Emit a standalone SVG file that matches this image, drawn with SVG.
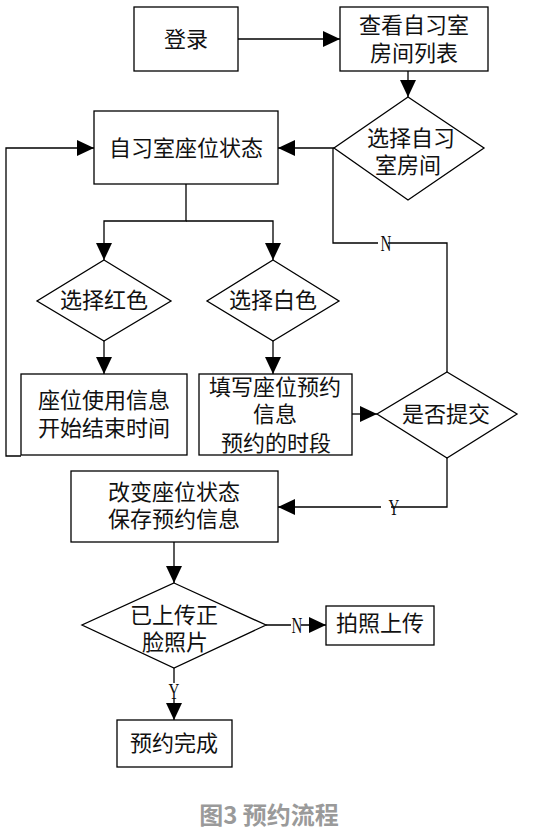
<svg xmlns="http://www.w3.org/2000/svg" width="535" height="834" viewBox="0 0 535 834">
<style>
.box{fill:#fff;stroke:#000;stroke-width:1.3}
.ln{fill:none;stroke:#000;stroke-width:1.3}
.t{font-family:"Noto Sans CJK SC","Liberation Serif",serif;font-size:22px;fill:#111;text-anchor:middle}
.lab{font-family:"Liberation Serif",serif;font-size:20px;fill:#111;text-anchor:middle}
.cap{font-family:"Noto Sans CJK SC",sans-serif;font-size:24px;font-weight:bold;fill:#9a9a9a;text-anchor:middle}
</style>
<defs>
<marker id="ah" markerUnits="userSpaceOnUse" markerWidth="17" markerHeight="16" refX="17" refY="8" orient="auto">
<path d="M0,0 L17,8 L0,16 z" fill="#000"/>
</marker>
</defs>
<rect width="535" height="834" fill="#fff"/>
<g id="connectors">
<path class="ln" d="M238,39 H340" marker-end="url(#ah)"/>
<path class="ln" d="M408,71 V97" marker-end="url(#ah)"/>
<path class="ln" d="M334,148 H278" marker-end="url(#ah)"/>
<path class="ln" d="M333,148 V243 H378 M388,243 H447 V372"/>
<path class="ln" d="M186,184 V221 H104 V260" marker-end="url(#ah)"/>
<path class="ln" d="M186,221 H273 V260" marker-end="url(#ah)"/>
<path class="ln" d="M104,341 V374" marker-end="url(#ah)"/>
<path class="ln" d="M273,341 V374" marker-end="url(#ah)"/>
<path class="ln" d="M21,456 H6 V148 H94" marker-end="url(#ah)"/>
<path class="ln" d="M352,414 H377" marker-end="url(#ah)"/>
<path class="ln" d="M447,458 V507 H391 M381,507 H278" marker-end="url(#ah)"/>
<path class="ln" d="M174,542 V583" marker-end="url(#ah)"/>
<path class="ln" d="M266,625 H291 M301,625 H326" marker-end="url(#ah)"/>
<path class="ln" d="M174,668 V683 M174,699 V720" marker-end="url(#ah)"/>
<text class="lab" x="386" y="250" transform="translate(386 243) scale(0.75 1.2) translate(-386 -243)">N</text>
<text class="lab" x="394" y="514" transform="translate(394 507) scale(0.75 1.2) translate(-394 -507)">Y</text>
<text class="lab" x="297" y="632" transform="translate(297 625) scale(0.75 1.2) translate(-297 -625)">N</text>
<text class="lab" x="174" y="698" transform="translate(174 691) scale(0.75 1.2) translate(-174 -691)">Y</text>
</g>
<g id="login">
<rect class="box" x="134" y="7" width="104" height="64"/>
<text class="t" x="186" y="47">登录</text>
</g>
<g id="roomlist">
<rect class="box" x="340" y="7" width="148" height="64"/>
<text class="t" x="414" y="33">查看自习室</text>
<text class="t" x="414" y="61">房间列表</text>
</g>
<g id="selectroom">
<polygon class="box" points="408,97 484,148 408,200 334,148"/>
<text class="t" x="411" y="146">选择自习</text>
<text class="t" x="408" y="173">室房间</text>
</g>
<g id="seatstate">
<rect class="box" x="94" y="111" width="184" height="73"/>
<text class="t" x="186" y="156">自习室座位状态</text>
</g>
<g id="selectred">
<polygon class="box" points="104,260 171,301 104,341 37,301"/>
<text class="t" x="104" y="308">选择红色</text>
</g>
<g id="selectwhite">
<polygon class="box" points="273,260 339,301 273,341 207,301"/>
<text class="t" x="273" y="308">选择白色</text>
</g>
<g id="seatuse">
<rect class="box" x="21" y="374" width="166" height="81"/>
<text class="t" x="104" y="408">座位使用信息</text>
<text class="t" x="104" y="436">开始结束时间</text>
</g>
<g id="fillinfo">
<rect class="box" x="199" y="374" width="153" height="81"/>
<text class="t" x="275" y="395">填写座位预约</text>
<text class="t" x="275" y="422">信息</text>
<text class="t" x="276" y="451">预约的时段</text>
</g>
<g id="submit">
<polygon class="box" points="447,372 517,414 447,458 377,414"/>
<text class="t" x="446" y="422">是否提交</text>
</g>
<g id="changestate">
<rect class="box" x="71" y="471" width="207" height="71"/>
<text class="t" x="174" y="500">改变座位状态</text>
<text class="t" x="174" y="527">保存预约信息</text>
</g>
<g id="photocheck">
<polygon class="box" points="174,583 266,625 174,668 82,625"/>
<text class="t" x="174" y="623">已上传正</text>
<text class="t" x="175" y="650">脸照片</text>
</g>
<g id="takephoto">
<rect class="box" x="326" y="606" width="108" height="39"/>
<text class="t" x="380" y="631">拍照上传</text>
</g>
<g id="done">
<rect class="box" x="117" y="720" width="115" height="47"/>
<text class="t" x="174" y="751">预约完成</text>
</g>
<text class="cap" x="269" y="824">图3 预约流程</text>
</svg>
